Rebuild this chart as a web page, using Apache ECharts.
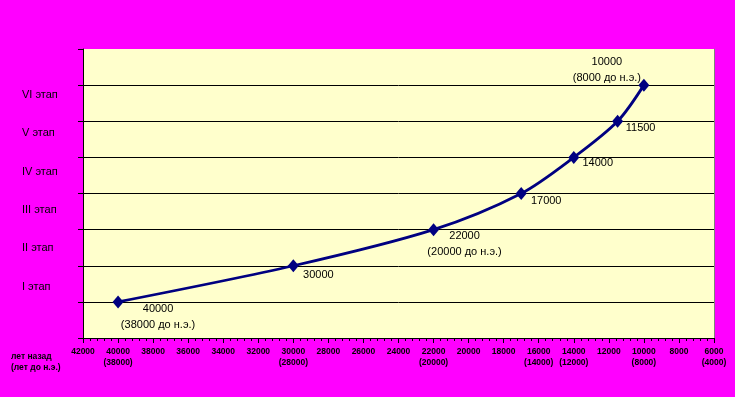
<!DOCTYPE html>
<html>
<head>
<meta charset="utf-8">
<script src="https://cdn.jsdelivr.net/npm/echarts@6/dist/echarts.min.js"></script>
<style>
  html, body { margin: 0; padding: 0; background: #FF00FF; }
  #chart { width: 735px; height: 397px; }
</style>
</head>
<body>
<div id="chart"></div>
<script>
// лет назад для каждой точки
var yearsAgo = [40000, 30000, 22000, 17000, 14000, 11500, 10000];
// номер этапа (позиция по вертикали)
var stageLevel = [1, 2, 3, 4, 5, 6, 7];
// подпись "до н.э." у некоторых точек
var bcNotes = ['38000', null, '20000', null, null, null, '8000'];
var stageNames = ['I этап', 'II этап', 'III этап', 'IV этап', 'V этап', 'VI этап'];
// подписи оси X во второй строке
var bcTicks = [40000, 30000, 22000, 16000, 14000, 10000, 6000];
var bcTickLabels = ['38000', '28000', '20000', '14000', '12000', '8000', '4000'];

// смещения подписей точек (оформление)
var labelOffsets = [[40, 15], [25, 9], [31, 14], [25, 7], [24, 6], [23, 7], [-37, -15]];

var myChart = echarts.init(document.getElementById('chart'));
var font = 'Arial, "Liberation Sans", sans-serif';

var seriesData = yearsAgo.map(function (v, i) {
    return {
        value: [v, stageLevel[i]],
        label: {
            offset: labelOffsets[i]
        }
    };
});

var option = {
    backgroundColor: '#FF00FF',
    animation: false,
    title: {
        text: 'лет назад\n(лет до н.э.)',
        left: 6,
        top: 346,
        textStyle: {
            fontFamily: font,
            fontSize: 8.5,
            fontWeight: 'bold',
            lineHeight: 11,
            color: '#000'
        }
    },
    grid: {
        left: 83,
        right: 21,
        top: 49,
        bottom: 59,
        show: true,
        backgroundColor: '#FFFFCC',
        borderWidth: 0
    },
    xAxis: {
        type: 'value',
        inverse: true,
        min: 6000,
        max: 42000,
        interval: 2000,
        axisLine: { lineStyle: { color: '#000', width: 1 } },
        axisTick: { show: true, length: 5, lineStyle: { color: '#000' } },
        minorTick: { show: true, splitNumber: 5, length: 3, lineStyle: { color: '#000' } },
        splitLine: { show: false },
        axisLabel: {
            margin: 8,
            fontFamily: font,
            fontSize: 8.5,
            fontWeight: 'bold',
            lineHeight: 11,
            color: '#000',
            formatter: function (val) {
                var k = bcTicks.indexOf(val);
                return val + '\n' + (k >= 0 ? '(' + bcTickLabels[k] + ')' : ' ');
            }
        }
    },
    yAxis: [{
        type: 'value',
        min: 0,
        max: 8,
        interval: 1,
        axisLine: { show: true, lineStyle: { color: '#000', width: 1 } },
        axisTick: { show: true, length: 5, lineStyle: { color: '#000' } },
        axisLabel: { show: false },
        splitLine: {
            show: true,
            showMinLine: false,
            showMaxLine: false,
            lineStyle: { color: '#000', width: 1 }
        }
    }, {
        // только подписи этапов (шаг 12.8px)
        type: 'value',
        position: 'left',
        min: 0,
        max: 22.58,
        interval: 1,
        axisLine: { show: false },
        axisTick: { show: false },
        splitLine: { show: false },
        axisLabel: {
            show: true,
            align: 'left',
            margin: 61,
            fontFamily: font,
            fontSize: 11,
            color: '#000',
            showMaxLabel: false,
            formatter: function (val) {
                var n = Math.round(val) - 4;
                if (n < 0 || n % 3 !== 0) return '';
                return stageNames[n / 3] || '';
            }
        }
    }, {
        type: 'value',
        position: 'right',
        min: 0,
        max: 8,
        axisLine: { show: true, lineStyle: { color: '#808080', width: 1 } },
        axisTick: { show: false },
        axisLabel: { show: false },
        splitLine: { show: false }
    }],
    series: [{
        type: 'line',
        xAxisIndex: 0,
        yAxisIndex: 0,
        data: seriesData,
        smooth: 0.3,
        symbol: 'diamond',
        symbolSize: [11, 13],
        itemStyle: { color: '#000080' },
        lineStyle: { color: '#000080', width: 2.8 },
        label: {
            show: true,
            position: 'inside',
            fontFamily: font,
            fontSize: 11,
            lineHeight: 16,
            color: '#000',
            formatter: function (p) {
                var i = p.dataIndex;
                return yearsAgo[i] + (bcNotes[i] ? '\n(' + bcNotes[i] + ' до н.э.)' : '');
            }
        }
    }]
};

myChart.setOption(option);
</script>
</body>
</html>
